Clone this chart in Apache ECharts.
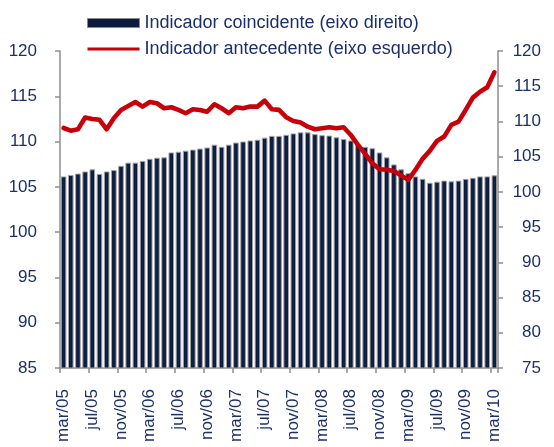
<!DOCTYPE html>
<html>
<head>
<meta charset="utf-8">
<script src="https://cdn.jsdelivr.net/npm/echarts@6/dist/echarts.min.js"></script>
<style>
html,body{margin:0;padding:0;background:#fff;}
#chart{width:554px;height:447px;}
</style>
</head>
<body>
<div id="chart"></div>
<script>
const categories = [
  'mar/05','abr/05','mai/05','jun/05','jul/05','ago/05','set/05','out/05','nov/05','dez/05',
  'jan/06','fev/06','mar/06','abr/06','mai/06','jun/06','jul/06','ago/06','set/06','out/06',
  'nov/06','dez/06','jan/07','fev/07','mar/07','abr/07','mai/07','jun/07','jul/07','ago/07',
  'set/07','out/07','nov/07','dez/07','jan/08','fev/08','mar/08','abr/08','mai/08','jun/08',
  'jul/08','ago/08','set/08','out/08','nov/08','dez/08','jan/09','fev/09','mar/09','abr/09',
  'mai/09','jun/09','jul/09','ago/09','set/09','out/09','nov/09','dez/09','jan/10','fev/10',
  'mar/10'
];
const coincidente = [
  102.2,102.4,102.6,102.9,103.2,102.55,102.9,103.1,103.7,104.15,
  104.15,104.4,104.7,104.85,104.9,105.6,105.7,105.85,106.0,106.15,
  106.3,106.7,106.4,106.7,107.0,107.15,107.3,107.4,107.7,107.95,
  107.95,108.1,108.3,108.45,108.45,108.2,108.05,108.0,107.75,107.5,
  107.3,106.7,106.4,106.2,105.6,104.9,103.9,103.2,102.65,102.2,
  101.85,101.3,101.45,101.6,101.5,101.6,101.85,102.0,102.2,102.2,
  102.35
];
const antecedente = [
  111.5,111.2,111.35,112.65,112.5,112.4,111.36,112.57,113.49,113.93,
  114.37,113.86,114.37,114.23,113.68,113.79,113.49,113.13,113.57,113.49,
  113.3,114.12,113.68,113.13,113.79,113.68,113.86,113.86,114.52,113.57,
  113.5,112.69,112.28,112.1,111.65,111.36,111.47,111.58,111.47,111.58,
  110.73,109.63,108.64,107.6,106.95,106.9,106.76,106.25,105.77,106.87,
  108.09,108.97,110.07,110.55,111.84,112.2,113.49,114.85,115.5,116.0,
  117.65
];
const leftTicks = {min: 85, max: 120, step: 5};
const rightTicks = {min: 75, max: 120, step: 5};
const nameBar = 'Indicador coincidente (eixo direito)';
const nameLine = 'Indicador antecedente (eixo esquerdo)';

const FONT = "'Liberation Sans', Arial, sans-serif";
const TXT = '#1c2f6c';
const AX = '#8e8e8e';
const RED = '#c8000a';
const NAVY = '#0c1a40';

const chart = echarts.init(document.getElementById('chart'), null, {renderer: 'canvas'});
chart.setOption({
  animation: false,
  backgroundColor: '#ffffff',
  grid: {left: 60, right: 56, top: 51, bottom: 79, containLabel: false},
  legend: {
    orient: 'vertical',
    left: 87,
    top: 13,
    padding: 0,
    itemWidth: 52,
    itemHeight: 9,
    itemGap: 6,
    textStyle: {fontSize: 18, color: TXT, fontFamily: FONT, lineHeight: 20},
    data: [
      {name: nameBar, icon: 'rect', itemStyle: {color: NAVY, borderColor: '#8a8a8a', borderWidth: 1}},
      {name: nameLine, icon: 'path://M0,0 L52,0 L52,3 L0,3 Z', itemStyle: {color: RED}}
    ]
  },
  xAxis: {
    type: 'category',
    data: categories,
    boundaryGap: true,
    axisLine: {show: true, lineStyle: {color: AX, width: 1.5}},
    axisTick: {show: true, interval: 3, length: 5, lineStyle: {color: AX, width: 1.5}},
    axisLabel: {interval: 3, rotate: 90, margin: 21, fontSize: 17, color: TXT, fontFamily: FONT},
    splitLine: {show: false}
  },
  yAxis: [
    {
      type: 'value', position: 'left',
      min: leftTicks.min, max: leftTicks.max, interval: leftTicks.step,
      axisLine: {show: true, lineStyle: {color: AX, width: 1.5}},
      axisTick: {show: true, length: 5, lineStyle: {color: AX, width: 1.5}},
      axisLabel: {margin: 23, fontSize: 17, color: TXT, fontFamily: FONT},
      splitLine: {show: false}
    },
    {
      type: 'value', position: 'right',
      min: rightTicks.min, max: rightTicks.max, interval: rightTicks.step,
      axisLine: {show: true, lineStyle: {color: AX, width: 1.5}},
      axisTick: {show: true, length: 5, lineStyle: {color: AX, width: 1.5}},
      axisLabel: {margin: 43, align: 'right', fontSize: 17, color: TXT, fontFamily: FONT},
      splitLine: {show: false}
    }
  ],
  series: [
    {
      name: nameBar,
      type: 'bar',
      yAxisIndex: 1,
      data: coincidente,
      barWidth: 5.6,
      itemStyle: {
        color: new echarts.graphic.LinearGradient(0, 0, 1, 0, [
          {offset: 0, color: '#07112b'},
          {offset: 0.5, color: '#0f214c'},
          {offset: 1, color: '#07112b'}
        ]),
        borderColor: '#a3a3a3',
        borderWidth: 1
      },
      z: 2
    },
    {
      name: nameLine,
      type: 'line',
      yAxisIndex: 0,
      data: antecedente,
      symbol: 'none',
      showSymbol: false,
      lineStyle: {color: RED, width: 4.6, join: 'round', cap: 'round'},
      itemStyle: {color: RED},
      z: 5
    }
  ]
});
</script>
</body>
</html>
